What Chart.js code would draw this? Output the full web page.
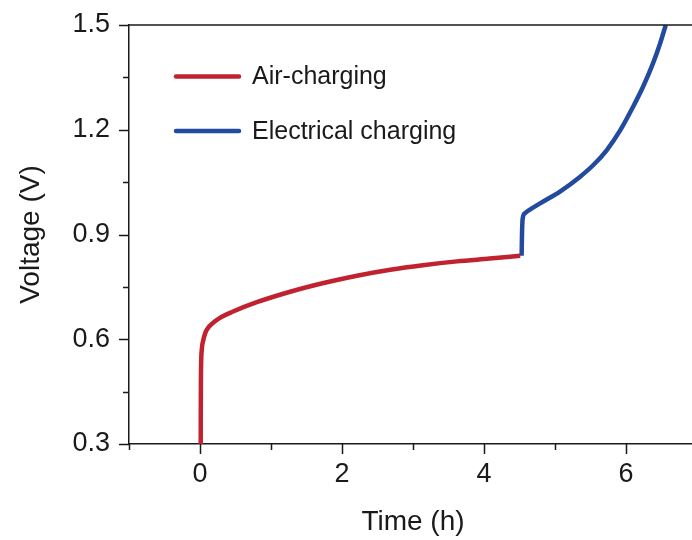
<!DOCTYPE html>
<html>
<head>
<meta charset="utf-8">
<script src="https://cdn.jsdelivr.net/npm/chart.js@4/dist/chart.umd.min.js"></script>
<style>
  html, body { margin: 0; padding: 0; background: #fff; overflow: hidden; }
  #wrap { width: 700px; height: 540px; }
</style>
</head>
<body>
<div id="wrap"><canvas id="voltChart" width="700" height="540"></canvas></div>
<script>
// data
const airTime  = [0.01, 0.012, 0.015, 0.025, 0.047, 0.07, 0.094, 0.18, 0.28, 0.45, 0.8, 1.27, 1.74, 2.21, 2.68, 3.14, 3.62, 4.08, 4.51];
const airVolt  = [0.30, 0.45, 0.52, 0.57, 0.598, 0.615, 0.627, 0.646, 0.661, 0.678, 0.706, 0.736, 0.761, 0.782, 0.799, 0.812, 0.823, 0.831, 0.839];
const elecTime = [4.53, 4.535, 4.545, 4.577, 4.79, 5.07, 5.35, 5.54, 5.73, 5.92, 6.10, 6.24, 6.38, 6.48, 6.56];
const elecVolt = [0.839, 0.90, 0.946, 0.961, 0.989, 1.023, 1.065, 1.099, 1.142, 1.199, 1.266, 1.323, 1.390, 1.447, 1.5];
const seriesNames = ["Air-charging", "Electrical charging"];
const seriesColors = ["#c1222f", "#224a9e"];
const xMin = -1, xMax = 7, yMin = 0.3, yMax = 1.5;

const FONT = "'Liberation Sans', Arial, Helvetica, sans-serif";
const INK = "#1a1a1a";

const toPts = (xs, ys) => xs.map((x, i) => ({ x, y: ys[i] }));

// no extra room for overhanging labels, layout padding decides the plot box
const noPad = s => { s.paddingTop = 0; s.paddingBottom = 0; s.paddingLeft = 0; s.paddingRight = 0; };

// frame top/right + major/minor tick marks, legend inside plot
const framePlugin = {
  id: "frame",
  afterDraw(chart) {
    const c = chart.ctx, a = chart.chartArea;
    const xs = chart.scales.x, ys = chart.scales.y;
    c.save();
    c.strokeStyle = INK;
    c.lineWidth = 1.5;
    c.beginPath();
    c.moveTo(a.left, a.top); c.lineTo(a.right, a.top); c.lineTo(a.right, a.bottom);
    // x ticks: major on even hours
    for (let v = xMin; v <= xMax; v++) {
      const px = Math.round(xs.getPixelForValue(v)) + 0.5;
      const len = v % 2 === 0 ? 10 : 6;
      c.moveTo(px, a.bottom); c.lineTo(px, a.bottom + len);
    }
    // y ticks: major every 0.3, minor in between
    for (let k = 0; k <= 8; k++) {
      const v = yMin + k * 0.15;
      const py = Math.round(ys.getPixelForValue(v)) + 0.5;
      const len = k % 2 === 0 ? 10 : 6;
      c.moveTo(a.left, py); c.lineTo(a.left - len, py);
    }
    c.stroke();

    // legend
    const rows = [76.5, 131];
    c.lineCap = "round";
    c.lineWidth = 4.5;
    c.font = "25px " + FONT;
    c.textBaseline = "middle";
    c.fillStyle = INK;
    chart.data.datasets.forEach((ds, i) => {
      c.strokeStyle = ds.borderColor;
      c.beginPath(); c.moveTo(176, rows[i]); c.lineTo(239, rows[i]); c.stroke();
      c.fillText(ds.label, 252, rows[i] + 1);
    });
    c.restore();
  }
};

new Chart(document.getElementById("voltChart"), {
  type: "line",
  data: {
    datasets: [
      { label: seriesNames[0], data: toPts(airTime, airVolt), borderColor: seriesColors[0] },
      { label: seriesNames[1], data: toPts(elecTime, elecVolt), borderColor: seriesColors[1] }
    ]
  },
  options: {
    responsive: false,
    animation: false,
    layout: { padding: { top: 25, right: 3, left: 0, bottom: 0 } },
    elements: {
      point: { radius: 0 },
      line: { borderWidth: 4.5, cubicInterpolationMode: "monotone", borderCapStyle: "butt", borderJoinStyle: "round" }
    },
    plugins: { legend: { display: false }, tooltip: { enabled: false } },
    scales: {
      x: {
        type: "linear", min: xMin, max: xMax,
        afterFit: s => { s.height = 96; noPad(s); },
        grid: { display: false },
        border: { display: true, color: INK, width: 1.5 },
        ticks: {
          stepSize: 1, padding: 6, color: INK, maxRotation: 0, autoSkip: false,
          font: { family: FONT, size: 27 },
          callback: v => (v % 2 === 0 ? String(v) : "")
        },
        title: { display: true, text: "Time (h)", color: INK, font: { family: FONT, size: 28 }, padding: { top: 0, bottom: 1 } }
      },
      y: {
        type: "linear", min: yMin, max: yMax,
        afterFit: s => { s.width = 129; noPad(s); },
        grid: { display: false },
        border: { display: true, color: INK, width: 1.5 },
        ticks: {
          stepSize: 0.15, padding: 11, color: INK, autoSkip: false,
          font: { family: FONT, size: 27 },
          callback: v => (Math.round((v - yMin) / 0.15) % 2 === 0 ? v.toFixed(1) : "")
        },
        title: { display: true, text: "Voltage (V)", color: INK, font: { family: FONT, size: 28 }, padding: { top: 14, bottom: 0 } }
      }
    }
  },
  plugins: [framePlugin]
});
</script>
</body>
</html>
